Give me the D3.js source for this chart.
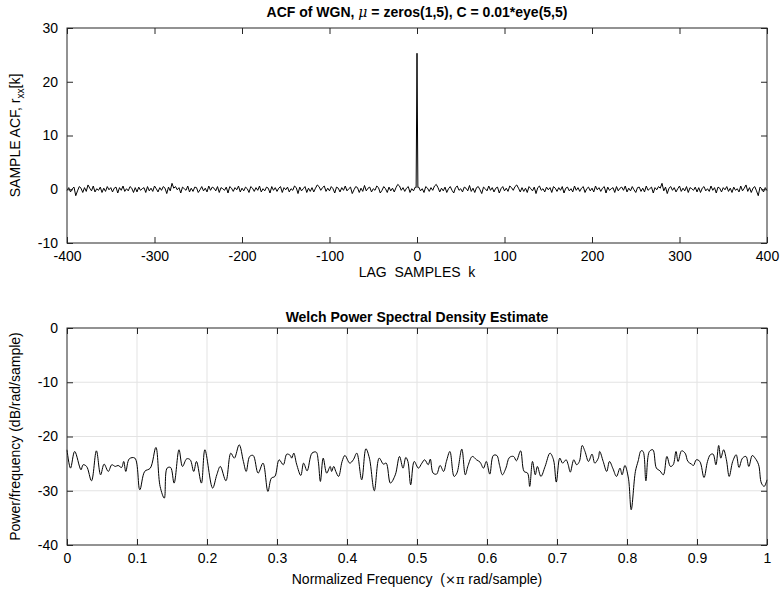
<!DOCTYPE html>
<html>
<head>
<meta charset="utf-8">
<script src="https://cdn.jsdelivr.net/npm/d3@7"></script>
<style>
  body { margin: 0; background: #fff; }
  text { font-family: "Liberation Sans", Arial, Helvetica, sans-serif; fill: #000; }
  .axis path { display: none; }
  .axis line { stroke: #262626; }
  .grid line { stroke: #e3e3e3; }
</style>
</head>
<body>
<svg id="chart" width="780" height="590"></svg>
<script>
// ---- top panel: sample ACF (symmetric, so only positive lags are listed) ----
var acfPosLags = d3.range(2, 401, 2);
var acfPosValues = [
  0.4, -0.3, 0.1, -0.6, 0.5, 0.2, -0.4, 0.3, -0.2, 0.6, 0.9, 0.3, -0.5, 0.2, -0.3, 0.4, -0.6, 0.1, 0.5, -0.2,
  -0.7, 0.3, 0.6, -0.2, 0.1, -0.5, 0.4, 0.2, -0.3, 0.7, -0.4, 0.2, -0.6, 0.3, 0.5, -0.1, -0.8, 0.4, 0.1, -0.3,
  0.6, -0.2, 0.3, -0.5, 0.2, 0.4, -0.7, 0.1, 0.5, -0.3, 0.2, -0.4, 0.6, 0.3, -0.2, 0.5, 0.8, 0.2, -0.5, 0.3,
  -0.4, 0.2, -0.6, 0.5, 0.1, -0.3, 0.4, -0.8, 0.3, 0.6, -0.2, 0.1, -0.5, 0.4, -0.1, 0.3, -0.6, 0.5, 0.2, -0.4,
  0.3, -0.2, 0.5, -0.7, 0.2, 0.4, -0.3, 0.1, -0.5, 0.6, -0.2, 0.3, -0.4, 0.2, 0.5, -0.6, 0.1, 0.4, -0.3, 0.2,
  -0.5, 0.6, -0.1, 0.3, -0.4, 0.2, 0.5, -0.7, 0.4, -0.2, 0.1, 0.3, -0.6, 0.5, -0.3, 0.2, 0.4, -0.2, 0.6, -0.5,
  0.2, -0.3, 0.5, -0.1, -0.6, 0.3, 0.4, -0.4, 0.2, -0.5, 0.6, -0.2, 0.1, 0.4, -0.7, 0.3, -0.1, 0.5, 0.2, 1.1,
  -0.3, 0.4, -0.8, 0.2, 0.5, -0.2, 0.3, -0.5, 0.1, 0.6, -0.4, 0.2, -0.3, 0.5, -0.6, 0.3, 0.1, -0.2, 0.4, -0.5,
  0.3, -0.6, 0.2, 0.5, -0.3, 0.1, -0.4, 0.6, -0.2, 0.3, -0.7, 0.4, 0.2, -0.5, 0.3, -0.1, 0.5, -0.4, 0.2, -0.6,
  0.4, -0.2, 0.1, -0.5, 0.6, -0.3, 0.2, 0.8, -0.4, 0.3, -0.6, 0.2, 0.5, -0.3, -1.2, 0.4, 0.1, -0.5, 0.3, -0.2
];
var acfPeakLags = [-1, 0, 1];
var acfPeakValues = [0.3, 25.3, 0.3];
var acfXTicks = [-400, -300, -200, -100, 0, 100, 200, 300, 400];
var acfYTicks = [-10, 0, 10, 20, 30];

// ---- bottom panel: Welch PSD ----
var psdFreq = [
  0.000, 0.005, 0.011, 0.020, 0.023, 0.028, 0.035, 0.042, 0.048, 0.053, 0.059, 0.064, 0.069, 0.073, 0.078, 0.081, 0.084, 0.089, 0.097,
  0.104, 0.111, 0.119, 0.127, 0.133, 0.139, 0.143, 0.148, 0.153, 0.160, 0.165, 0.171, 0.176, 0.181, 0.185, 0.192, 0.197,
  0.208, 0.214, 0.219, 0.227, 0.234, 0.239, 0.246, 0.252, 0.256, 0.261, 0.266, 0.273, 0.280, 0.287, 0.292, 0.297, 0.303, 0.309,
  0.314, 0.319, 0.321, 0.324, 0.328, 0.334, 0.338, 0.343, 0.350, 0.356, 0.359, 0.362, 0.366, 0.371, 0.376, 0.378, 0.381, 0.384, 0.388, 0.393, 0.397,
  0.404, 0.409, 0.414, 0.421, 0.427, 0.432, 0.439, 0.446, 0.452, 0.456, 0.462, 0.469, 0.475, 0.480, 0.484, 0.487, 0.491, 0.496,
  0.502, 0.507, 0.511, 0.516, 0.519, 0.523, 0.528, 0.533, 0.538, 0.542, 0.547, 0.553, 0.557, 0.564, 0.569, 0.573, 0.579, 0.585, 0.590, 0.595, 0.599,
  0.604, 0.609, 0.614, 0.618, 0.622, 0.627, 0.632, 0.638, 0.642, 0.648, 0.653, 0.658, 0.661, 0.665, 0.669, 0.672, 0.677, 0.683, 0.690, 0.695, 0.699,
  0.704, 0.708, 0.713, 0.716, 0.719, 0.724, 0.728, 0.732, 0.736, 0.740, 0.745, 0.750, 0.754, 0.759, 0.761, 0.766, 0.771, 0.775, 0.780, 0.785, 0.790, 0.793, 0.797,
  0.802, 0.806, 0.812, 0.816, 0.820, 0.823, 0.827, 0.832, 0.837, 0.842, 0.847, 0.852, 0.857, 0.862, 0.866, 0.870, 0.873, 0.878, 0.883, 0.887, 0.892, 0.895, 0.899,
  0.904, 0.910, 0.915, 0.919, 0.923, 0.927, 0.931, 0.934, 0.938, 0.942, 0.946, 0.951, 0.956, 0.960, 0.965, 0.970, 0.974, 0.979, 0.983, 0.988, 0.992, 0.996, 1.000
];
var psdDb = [
  -22.45, -25.83, -22.76, -26.13, -25.21, -25.52, -28.16, -22.64, -27.06, -25.09, -26.44, -25.21, -25.52, -25.34, -25.71, -24.60, -26.44, -24.11, -23.99,
  -29.82, -26.44, -25.83, -22.02, -29.20, -31.35, -25.83, -25.71, -28.59, -22.45, -25.52, -24.11, -24.29, -26.44, -24.60, -28.59, -22.45,
  -29.51, -27.06, -25.52, -28.16, -23.07, -23.99, -21.53, -24.60, -26.44, -23.68, -23.50, -26.75, -24.91, -30.12, -27.67, -27.36, -24.29, -25.21,
  -23.25, -23.50, -23.99, -23.07, -25.09, -27.18, -24.91, -26.32, -23.07, -22.88, -24.60, -28.28, -23.99, -26.75, -25.52, -26.44, -25.52, -26.44, -27.36, -24.60, -23.50,
  -24.91, -24.29, -23.07, -27.98, -22.27, -23.99, -30.00, -23.99, -25.09, -24.91, -28.59, -27.06, -23.68, -25.83, -23.87, -24.60, -28.90, -24.60,
  -25.83, -24.91, -24.29, -25.21, -24.17, -26.75, -26.93, -25.34, -26.44, -24.60, -22.76, -27.36, -26.75, -22.33, -27.06, -25.34, -23.68, -24.29, -24.72, -25.83, -24.60,
  -26.93, -23.50, -23.50, -25.34, -27.06, -25.83, -23.87, -23.68, -24.48, -22.64, -26.44, -26.75, -29.20, -24.60, -27.06, -25.52, -27.36, -25.52, -23.07, -24.29, -28.40,
  -23.99, -24.91, -24.29, -25.21, -26.56, -24.29, -25.21, -24.60, -21.66, -22.76, -24.60, -23.25, -24.91, -23.99, -22.76, -24.60, -26.44, -24.60, -25.95, -27.36, -25.83, -27.06, -25.34,
  -27.67, -33.50, -26.44, -24.48, -22.64, -22.76, -28.16, -22.76, -22.45, -25.83, -26.32, -27.06, -23.68, -25.52, -25.21, -22.76, -24.60, -22.64, -23.07, -24.60, -25.09, -25.34, -24.29,
  -24.60, -27.55, -24.60, -23.37, -23.25, -25.21, -21.66, -23.99, -22.45, -24.29, -27.36, -24.60, -23.37, -25.71, -23.99, -23.68, -25.52, -23.50, -23.99, -25.21, -28.59, -29.20, -27.98
];
var psdXTicks = [0, 0.1, 0.2, 0.3, 0.4, 0.5, 0.6, 0.7, 0.8, 0.9, 1];
var psdYTicks = [-40, -30, -20, -10, 0];

var svg = d3.select("#chart");
var left = 67, right = 767, w = right - left;
var tick = 6;

// plain hyphen minus, like the original figure
function plain(d) { return String(d); }

function frame(g, x, y, xTicks, yTicks, fmtX, h) {
  g.append("g").attr("class", "axis").attr("transform", "translate(0," + h + ")")
    .call(d3.axisBottom(x).tickValues(xTicks).tickFormat(fmtX).tickSizeInner(-tick).tickSizeOuter(0).tickPadding(8))
    .selectAll("text").style("font-size", "14px");
  g.append("g").attr("class", "axis")
    .call(d3.axisTop(x).tickValues(xTicks).tickFormat("").tickSizeInner(-tick).tickSizeOuter(0));
  g.append("g").attr("class", "axis")
    .call(d3.axisLeft(y).tickValues(yTicks).tickFormat(plain).tickSizeInner(-tick).tickSizeOuter(0).tickPadding(9))
    .selectAll("text").style("font-size", "14px");
  g.append("g").attr("class", "axis").attr("transform", "translate(" + w + ",0)")
    .call(d3.axisRight(y).tickValues(yTicks).tickFormat("").tickSizeInner(-tick).tickSizeOuter(0));
  g.selectAll(".axis text").attr("fill", "#000");
  g.append("rect").attr("width", w).attr("height", h)
    .attr("fill", "none").attr("stroke", "#262626").attr("stroke-width", 1);
}

// ---------- top panel ----------
var top1 = 28, h1 = 215;
var g1 = svg.append("g").attr("transform", "translate(" + left + "," + top1 + ")");
var x1 = d3.scaleLinear().domain([-400, 400]).range([0, w]);
var y1 = d3.scaleLinear().domain([-10, 30]).range([h1, 0]);

var acf = [];
for (var i = acfPosLags.length - 1; i >= 0; i--) acf.push([-acfPosLags[i], acfPosValues[i]]);
acfPeakLags.forEach(function (k, i) { acf.push([k, acfPeakValues[i]]); });
acfPosLags.forEach(function (k, i) { acf.push([k, acfPosValues[i]]); });

g1.append("path").datum(acf)
  .attr("fill", "none").attr("stroke", "#000").attr("stroke-width", 1)
  .attr("d", d3.line().x(function (d) { return x1(d[0]); }).y(function (d) { return y1(d[1]); }));

frame(g1, x1, y1, acfXTicks, acfYTicks, plain, h1);

svg.append("text").attr("x", left + w / 2).attr("y", 17).attr("text-anchor", "middle")
  .style("font-size", "14px").style("font-weight", "bold")
  .html('ACF of WGN, <tspan style="font-family:\'DejaVu Serif\',serif;font-style:italic;font-weight:normal">\u03bc</tspan> = zeros(1,5), C = 0.01*eye(5,5)');
svg.append("text").attr("x", left + w / 2).attr("y", 277).attr("text-anchor", "middle")
  .style("font-size", "14px").attr("xml:space", "preserve").text("LAG  SAMPLES  k");
var yl1 = svg.append("text").attr("transform", "translate(20," + (top1 + h1 / 2) + ") rotate(-90)")
  .attr("text-anchor", "middle").style("font-size", "14px");
yl1.append("tspan").text("SAMPLE ACF, r");
yl1.append("tspan").attr("dy", 4).style("font-size", "10px").text("xx");
yl1.append("tspan").attr("dy", -4).text("[k]");

// ---------- bottom panel ----------
var top2 = 328, h2 = 217;
var g2 = svg.append("g").attr("transform", "translate(" + left + "," + top2 + ")");
var x2 = d3.scaleLinear().domain([0, 1]).range([0, w]);
var y2 = d3.scaleLinear().domain([-40, 0]).range([h2, 0]);

g2.append("g").attr("class", "grid")
  .selectAll("line.v").data(psdXTicks.slice(1, -1)).enter().append("line")
  .attr("x1", x2).attr("x2", x2).attr("y1", 0).attr("y2", h2);
g2.append("g").attr("class", "grid")
  .selectAll("line.h").data(psdYTicks.slice(1, -1)).enter().append("line")
  .attr("y1", y2).attr("y2", y2).attr("x1", 0).attr("x2", w);

var psd = psdFreq.map(function (f, i) { return [f, psdDb[i]]; });
g2.append("path").datum(psd)
  .attr("fill", "none").attr("stroke", "#000").attr("stroke-width", 1)
  .attr("d", d3.line().curve(d3.curveCatmullRom.alpha(0.5))
    .x(function (d) { return x2(d[0]); }).y(function (d) { return y2(d[1]); }));

frame(g2, x2, y2, psdXTicks, psdYTicks, function (d) { return d === 0 ? "0" : d === 1 ? "1" : d3.format(".1f")(d); }, h2);

svg.append("text").attr("x", left + w / 2).attr("y", 322).attr("text-anchor", "middle")
  .style("font-size", "14px").style("font-weight", "bold").text("Welch Power Spectral Density Estimate");
svg.append("text").attr("x", left + w / 2).attr("y", 584).attr("text-anchor", "middle")
  .style("font-size", "14px").attr("xml:space", "preserve")
  .html('Normalized Frequency  (<tspan style="font-family:\'DejaVu Serif\',serif;font-size:13px">\u00d7\u03c0</tspan> rad/sample)');
svg.append("text").attr("transform", "translate(20," + (top2 + h2 / 2) + ") rotate(-90)")
  .attr("text-anchor", "middle").style("font-size", "14px").text("Power/frequency (dB/rad/sample)");
</script>
</body>
</html>
